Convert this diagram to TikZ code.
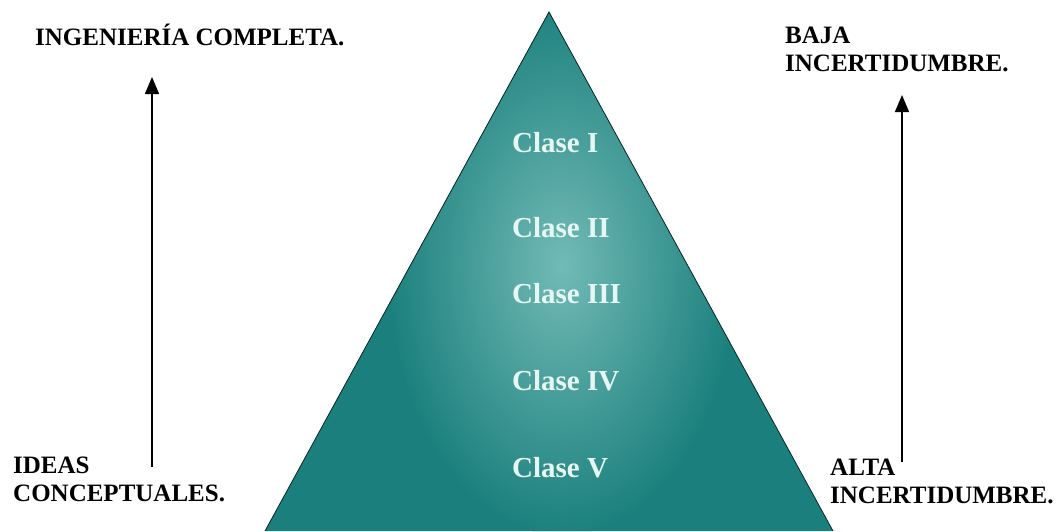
\documentclass[tikz,border=0pt]{standalone}
\usepackage{fontspec}
\setmainfont{Liberation Serif}
\usetikzlibrary{arrows.meta}
\definecolor{tealdark}{HTML}{1B807D}
\definecolor{teallight}{HTML}{72BAB6}
\definecolor{classtext}{HTML}{E6F7F3}
\begin{document}
\begin{tikzpicture}[x=1pt,y=-1pt,
  sidelabel/.style={inner sep=0pt,align=left,font=\fontsize{25}{28}\selectfont\bfseries,text=black},
  classlabel/.style={inner sep=0pt,anchor=base west,font=\fontsize{29}{32}\selectfont\bfseries,text=classtext},
  uparrow/.style={line width=1.4pt,-{Triangle[length=17pt,width=14pt]}}]
\useasboundingbox[fill=white] (0,0) rectangle (1058,531);
% pyramid with a soft light band in the middle
\coordinate (apex) at (549,12);
\coordinate (bl) at (265,531);
\coordinate (br) at (833,531);
\begin{scope}
  \clip (apex) -- (br) -- (bl) -- cycle;
  \fill[tealdark] (apex) -- (br) -- (bl) -- cycle;
  \shade[inner color=teallight,outer color=tealdark] (562,265) ellipse [x radius=175,y radius=270];
\end{scope}
\draw[line width=0.8pt,black!70!tealdark] (bl) -- (apex) -- (br);
% class labels
\node[classlabel] (c1) at (512,152) {Clase I};
\node[classlabel] (c2) at (512,237) {Clase II};
\node[classlabel] (c3) at (512,303) {Clase III};
\node[classlabel] (c4) at (512,390) {Clase IV};
\node[classlabel] (c5) at (512,477) {Clase V};
% side labels
\node[sidelabel,anchor=base west] (ing) at (35,45) {INGENIERÍA COMPLETA.};
\node[sidelabel,anchor=north west] (baja) at (785,27) {BAJA\\INCERTIDUMBRE.};
\node[sidelabel,anchor=north west] (ideas) at (13,457) {IDEAS\\CONCEPTUALES.};
\node[sidelabel,anchor=north west] (alta) at (830,459) {ALTA\\INCERTIDUMBRE.};
% arrows
\coordinate (la0) at (152,467);
\coordinate (la1) at (152,77);
\coordinate (ra0) at (902,462);
\coordinate (ra1) at (902,95);
\draw[uparrow] (la0) -- (la1);
\draw[uparrow] (ra0) -- (ra1);
\end{tikzpicture}
\end{document}
